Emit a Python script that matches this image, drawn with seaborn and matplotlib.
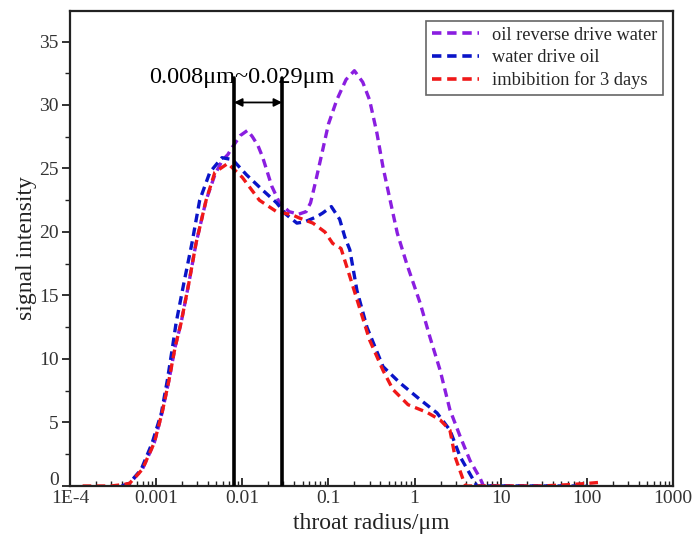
import numpy as np
import pandas as pd
import matplotlib
matplotlib.use("Agg")
import matplotlib.pyplot as plt
import matplotlib.transforms as mtransforms
import seaborn as sns

# Throat radius (um) and NMR signal intensity for each saturation state
oil_rev_x = [0.0004, 0.00049, 0.00069, 0.00095, 0.00117, 0.00141, 0.00166, 0.00194, 0.0024, 0.0029,
             0.0038, 0.0048, 0.0058, 0.0068, 0.0077, 0.0095, 0.0115, 0.0131, 0.0152, 0.0172,
             0.022, 0.027, 0.035, 0.045, 0.055, 0.062, 0.07, 0.086, 0.1, 0.125,
             0.16, 0.2, 0.25, 0.3, 0.365, 0.43, 0.52, 0.63, 0.81, 1.16,
             1.51, 1.98, 2.57, 3.38, 4.4, 5.77, 6.3, 10, 30, 100]
oil_rev_y = [0, 0.2, 1.3, 3.4, 5.75, 8.35, 10.95, 12.8, 16.0, 19.1,
             22.5, 24.5, 25.6, 26.1, 26.7, 27.6, 28.0, 27.5, 26.8, 25.9,
             23.6, 22.3, 21.6, 21.4, 21.6, 22.3, 23.8, 26.5, 28.5, 30.4,
             32.0, 32.7, 31.8, 30.4, 27.8, 25.1, 22.5, 19.9, 17.5, 14.4,
             11.7, 9.1, 6.0, 3.9, 2.0, 0.6, 0, 0, 0, 0]

water_x = [0.0004, 0.000486, 0.00067, 0.0009, 0.00115, 0.00135, 0.00155, 0.0017, 0.0021, 0.0026,
           0.0032, 0.0042, 0.0058, 0.0077, 0.0112, 0.0172, 0.025, 0.032, 0.043, 0.053,
           0.073, 0.086, 0.108, 0.135, 0.155, 0.177, 0.214, 0.28, 0.43, 0.68,
           1.16, 1.82, 2.57, 3.38, 4.79, 5.3, 10, 30, 100]
water_y = [0, 0.2, 1.3, 3.4, 5.75, 8.35, 10.95, 12.8, 16.0, 19.1,
           22.5, 24.7, 25.85, 25.7, 24.5, 23.3, 22.3, 21.4, 20.7, 20.8,
           21.2, 21.5, 22.0, 21.0, 19.6, 18.6, 15.4, 12.5, 9.4, 8.1,
           6.8, 5.75, 4.4, 2.3, 0.5, 0, 0, 0, 0]

imb_x = [0.00014, 0.0002, 0.0003, 0.0004, 0.00049, 0.00069, 0.00095, 0.00117, 0.00141, 0.00166,
         0.00194, 0.0024, 0.0029, 0.0038, 0.0048, 0.0068, 0.01, 0.0158, 0.025, 0.038,
         0.046, 0.066, 0.091, 0.112, 0.14, 0.177, 0.214, 0.30, 0.43, 0.56,
         0.84, 1.39, 1.98, 2.57, 2.95, 3.66, 3.95, 10, 30, 60, 100, 150]
imb_y = [0, 0, 0, 0.1, 0.2, 1.3, 3.4, 5.75, 8.35, 10.95,
         12.8, 16.0, 19.1, 22.5, 24.7, 25.4, 24.3, 22.5, 21.6, 21.35,
         21.1, 20.7, 20.0, 19.1, 18.7, 16.5, 14.7, 11.5, 9.1, 7.6,
         6.4, 5.8, 5.2, 4.4, 2.3, 0.5, 0, 0, 0, 0.1, 0.2, 0.3]

series_names = ["oil reverse drive water", "water drive oil", "imbibition for 3 days"]
series_colors = ["#8a1ee0", "#0a14c8", "#f01818"]

# Throat-radius interval marked on the chart
range_lo = 0.008
range_hi = 0.029
range_label = "0.008\u03bcm~0.029\u03bcm"

x_ticks = [1e-4, 1e-3, 1e-2, 1e-1, 1, 10, 100, 1000]
x_tick_labels = ["1E-4", "0.001", "0.01", "0.1", "1", "10", "100", "1000"]
y_ticks = [0, 5, 10, 15, 20, 25, 30, 35]

frames = []
for name, xs, ys in zip(series_names,
                        [oil_rev_x, water_x, imb_x],
                        [oil_rev_y, water_y, imb_y]):
    frames.append(pd.DataFrame({"radius": xs, "signal": ys, "state": name}))
df = pd.concat(frames, ignore_index=True)

sns.set_theme(style="white")
plt.rcParams["font.family"] = ["Liberation Serif", "DejaVu Serif"]

dash_style = (0, (2.6, 1.6))

fig = plt.figure(figsize=(6.96, 5.43), dpi=100)
ax = fig.add_axes([0.1006, 0.105, 0.8664, 0.8747])

for name, color in zip(series_names, series_colors):
    sub = df[df["state"] == name]
    sns.lineplot(data=sub, x="radius", y="signal", ax=ax, color=color,
                 linewidth=2.4, estimator=None, sort=False, label=name,
                 linestyle=dash_style)

ax.set_xscale("log")
ax.set_xlim(1e-4, 1000)
ax.set_ylim(0, 37.4)

# Boundaries of the interval and a double-headed arrow between them
for xv in (range_lo, range_hi):
    ax.plot([xv, xv], [0, 32.1], color="black", linewidth=2.6, zorder=5)
ax.annotate("", xy=(range_lo, 30.2), xytext=(range_hi, 30.2),
            arrowprops=dict(arrowstyle="<|-|>", color="black", lw=1.3,
                            mutation_scale=12, shrinkA=0, shrinkB=0),
            zorder=6)
ax.text(0.0098, 32.2, range_label, ha="center", va="center", fontsize=17.5,
        color="black", zorder=7)

ax.set_xticks(x_ticks)
ax.set_xticklabels(x_tick_labels)
ax.xaxis.set_minor_locator(matplotlib.ticker.LogLocator(base=10, subs=np.arange(2, 10), numticks=50))
ax.xaxis.set_minor_formatter(matplotlib.ticker.NullFormatter())
ax.set_yticks(y_ticks)
ax.yaxis.set_minor_locator(matplotlib.ticker.MultipleLocator(2.5))

ax.tick_params(axis="x", which="major", direction="in", length=6, width=1.3,
               labelsize=14, pad=3, bottom=True, top=False, colors="#222222")
ax.tick_params(axis="x", which="minor", direction="in", length=3.5, width=1.0,
               bottom=True, top=False, colors="#222222")
ax.tick_params(axis="y", which="major", direction="out", length=6, width=1.3,
               labelsize=14, pad=2, left=True, right=False, colors="#222222")
ax.tick_params(axis="y", which="minor", direction="out", length=3.5, width=1.0,
               left=True, right=False, colors="#222222")
for lbl in ax.get_xticklabels() + ax.get_yticklabels():
    lbl.set_color("#333333")

# lift the "0" label a little so it clears the first x label
zero_lbl = ax.get_yticklabels()[0]
zero_lbl.set_transform(zero_lbl.get_transform() +
                       mtransforms.ScaledTranslation(0, 7 / 100, fig.dpi_scale_trans))

for side in ["left", "right", "top", "bottom"]:
    ax.spines[side].set_visible(True)
    ax.spines[side].set_color("#222222")
    ax.spines[side].set_linewidth(1.6)

ax.set_xlabel("throat radius/\u03bcm", fontsize=17, color="#222222", labelpad=4)
ax.set_ylabel("signal intensity", fontsize=17, color="#222222", labelpad=2)
ax.grid(False)

leg = ax.legend(loc="upper right", fontsize=13.2, frameon=True, fancybox=False,
                edgecolor="#666666", framealpha=1, handlelength=2.6,
                handletextpad=0.7, borderpad=0.3, labelspacing=0.3,
                borderaxespad=0.55)
leg.get_frame().set_linewidth(1.2)
for h in leg.get_lines():
    h.set_linestyle(dash_style)
    h.set_linewidth(2.6)

fig.savefig("out.png", dpi=100)
